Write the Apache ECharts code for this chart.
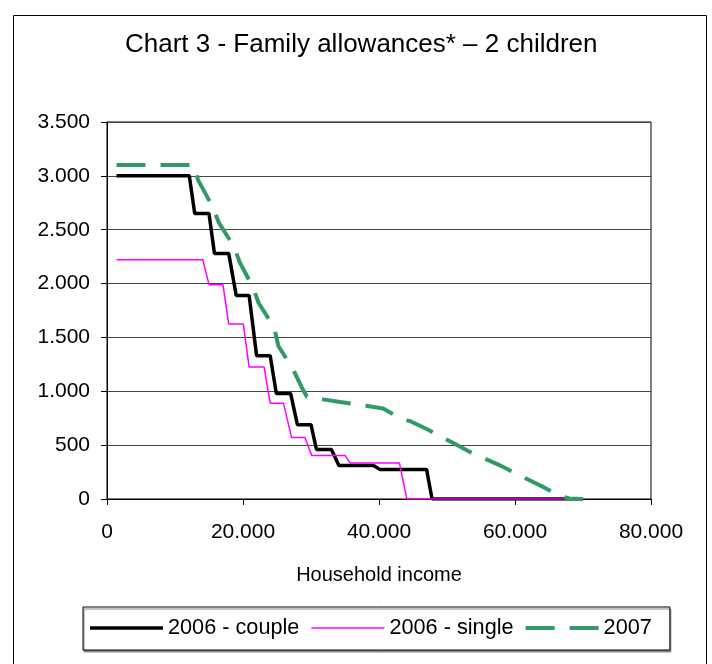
<!DOCTYPE html>
<html>
<head>
<meta charset="utf-8">
<script src="https://cdn.jsdelivr.net/npm/echarts@6/dist/echarts.min.js"></script>
<style>
html,body{margin:0;padding:0;background:#fff;}
#c{width:712px;height:664px;}
</style>
</head>
<body>
<div id="c"></div>
<script>
// Data
var seriesNames = ['2006 - couple', '2006 - single', '2007'];
var coupleX = [1400, 12100, 12900, 15000, 15800, 17900, 19000, 20900, 22000, 24000, 24900, 27000, 28000, 30000, 30800, 33000, 34100, 39200, 40100, 47000, 47800, 70000];
var coupleY = [3000, 3000, 2650, 2650, 2280, 2280, 1890, 1890, 1330, 1330, 980, 980, 690, 690, 460, 460, 310, 310, 275, 275, 0, 0];
var singleX = [1400, 14100, 15000, 17050, 17900, 20050, 20900, 23100, 24000, 25950, 27150, 29100, 30100, 35000, 35750, 43000, 44100, 70000];
var singleY = [2220, 2220, 1990, 1990, 1625, 1625, 1225, 1225, 890, 890, 570, 570, 405, 405, 335, 335, 0, 0];
var y2007X = [1400, 12800, 13400, 15300, 16500, 18700, 19500, 21500, 22300, 24600, 25200, 27400, 28600, 29400, 31800, 34300, 38100, 40600, 43100, 44700, 47300, 51200, 53600, 57700, 60300, 64200, 66600, 68000, 70000];
var y2007Y = [3100, 3100, 2960, 2740, 2560, 2340, 2200, 1960, 1820, 1590, 1420, 1200, 1040, 950, 925, 900, 865, 840, 750, 720, 640, 510, 430, 315, 230, 110, 30, 5, 0];
var xTicks = [0, 20000, 40000, 60000, 80000];
var yTicks = [0, 500, 1000, 1500, 2000, 2500, 3000, 3500];

function zip(xs, ys) { return xs.map(function (x, i) { return [x, ys[i]]; }); }
function fmt(v) { return String(v).replace(/\B(?=(\d{3})+(?!\d))/g, '.'); }

var FONT = '"Liberation Sans", Arial, sans-serif';
var chart = echarts.init(document.getElementById('c'), null, {renderer: 'canvas'});
chart.setOption({
  animation: false,
  backgroundColor: '#fff',
  title: {
    text: 'Chart 3 - Family allowances* \u2013 2 children',
    left: 120, top: 27,
    textStyle: {fontFamily: FONT, fontSize: 26, fontWeight: 'normal', color: '#000'}
  },
  graphic: [{
    type: 'rect', silent: true,
    shape: {x: 13.5, y: 15.5, width: 693, height: 700},
    style: {fill: 'none', stroke: '#000', lineWidth: 1}
  }],
  grid: {
    left: 107, right: 61, top: 122, bottom: 165,
    show: true, borderColor: '#000', borderWidth: 1, backgroundColor: '#fff'
  },
  legend: {
    data: [
      {name: seriesNames[0], icon: 'path://M0,0h73v3.5h-73z'},
      {name: seriesNames[1], icon: 'path://M0,0h73v1.5h-73z'},
      {name: seriesNames[2], icon: 'path://M0,0h29v4h-29zM44,0h29v4h-29z'}
    ],
    symbolKeepAspect: true,
    left: 83, top: 607,
    padding: [10, 18, 11, 7],
    itemGap: 12,
    itemWidth: 73, itemHeight: 14,
    borderColor: '#000', borderWidth: 1,
    backgroundColor: '#fff',
    shadowColor: '#888', shadowOffsetX: 1, shadowOffsetY: 2, shadowBlur: 0,
    textStyle: {fontFamily: FONT, fontSize: 21.7, color: '#000'}
  },
  xAxis: {
    type: 'value', min: 0, max: 80000, interval: 20000,
    name: 'Household income', nameLocation: 'middle', nameGap: 66,
    nameTextStyle: {fontFamily: FONT, fontSize: 20, color: '#000'},
    axisLine: {show: true, lineStyle: {color: '#000', width: 1}},
    axisTick: {show: true, inside: false, length: 6, lineStyle: {color: '#000'}},
    axisLabel: {fontFamily: FONT, fontSize: 21, color: '#000', margin: 23, formatter: fmt},
    splitLine: {show: false}
  },
  yAxis: {
    type: 'value', min: 0, max: 3500, interval: 500,
    axisLine: {show: true, lineStyle: {color: '#000', width: 1}},
    axisTick: {show: true, inside: false, length: 6, lineStyle: {color: '#000'}},
    axisLabel: {fontFamily: FONT, fontSize: 21, color: '#000', margin: 17, formatter: fmt},
    splitLine: {show: true, lineStyle: {color: '#444', width: 1}}
  },
  series: [
    {name: seriesNames[0], type: 'line', symbol: 'none', data: zip(coupleX, coupleY),
     lineStyle: {color: '#000', width: 3.5}, itemStyle: {color: '#000'}},
    {name: seriesNames[1], type: 'line', symbol: 'none', data: zip(singleX, singleY),
     lineStyle: {color: '#ff00ff', width: 1.5}, itemStyle: {color: '#ff00ff'}},
    {name: seriesNames[2], type: 'line', symbol: 'none', data: zip(y2007X, y2007Y),
     lineStyle: {color: '#339966', width: 4, type: [29, 15], cap: 'butt'}, itemStyle: {color: '#339966'}}
  ]
});
</script>
</body>
</html>
